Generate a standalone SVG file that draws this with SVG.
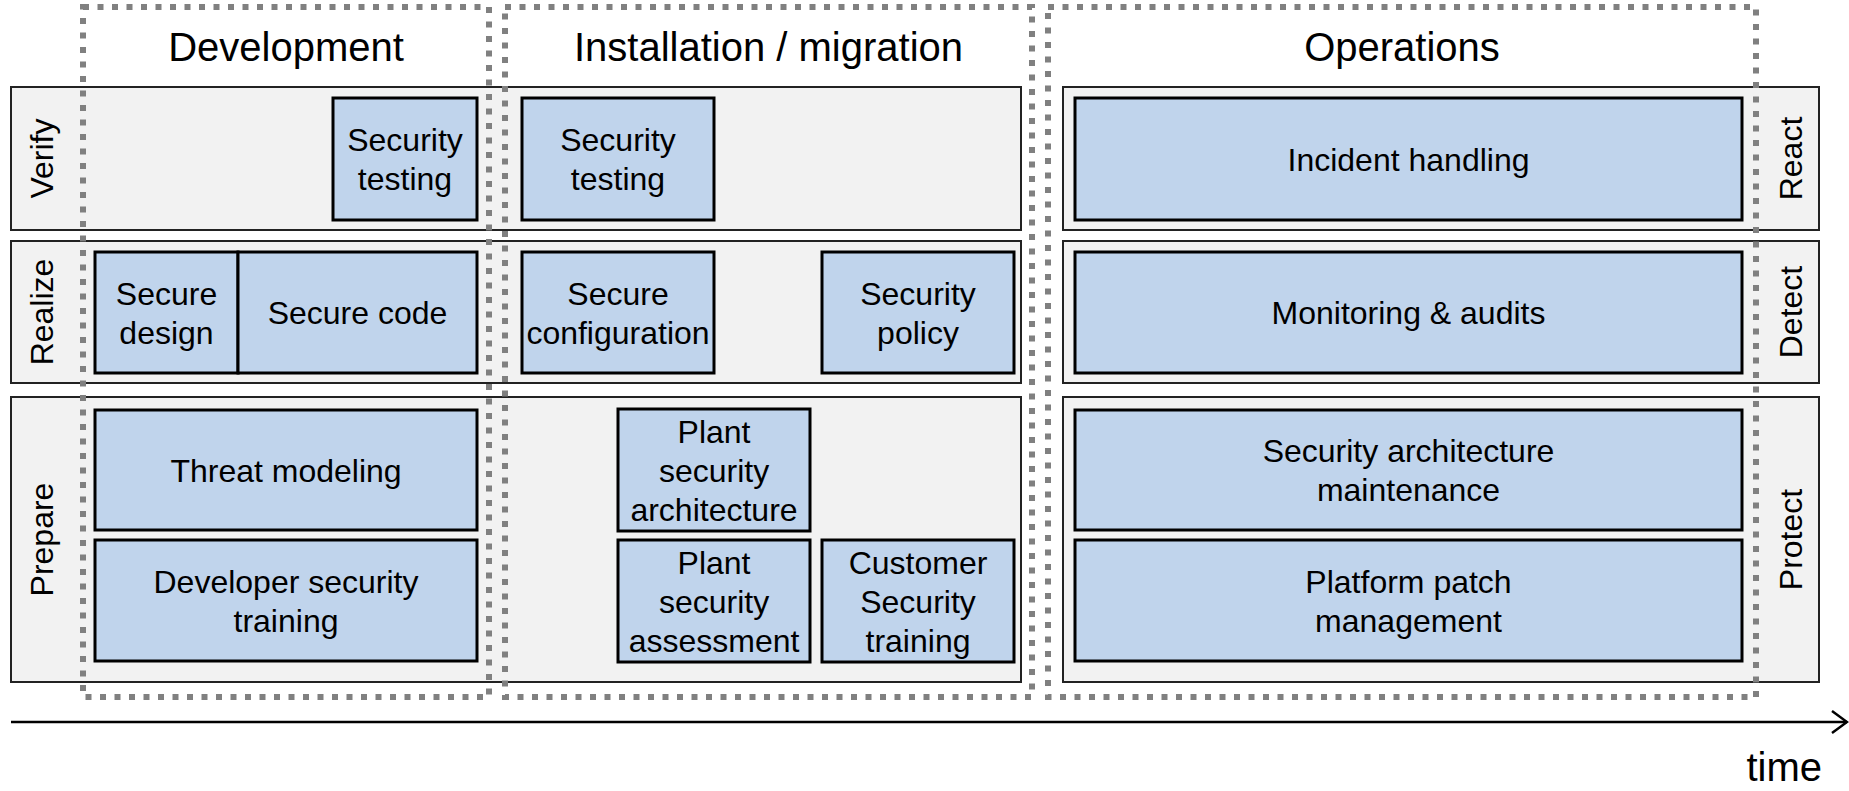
<svg xmlns="http://www.w3.org/2000/svg" width="1849" height="791" viewBox="0 0 1849 791">
  <style>
    text { font-family: "Liberation Sans", Arial, sans-serif; fill: #000; }
    .head { font-size: 40px; text-anchor: middle; }
    .lbl { font-size: 32px; text-anchor: middle; }
    .side { font-size: 32px; text-anchor: middle; }
    .panel { fill: #f2f2f2; stroke: #222; stroke-width: 2; }
    .box { fill: #c0d4ec; stroke: #000; stroke-width: 3; }
    .phase { fill: none; stroke: #808080; stroke-width: 6; stroke-dasharray: 6 8.5; }
    .axis { fill: none; stroke: #000; stroke-width: 2.5; }
  </style>

  <!-- Background bands (rows) -->
  <g id="bands">
    <rect class="panel" x="11" y="87" width="1010" height="143"/>
    <rect class="panel" x="11" y="241" width="1010" height="142"/>
    <rect class="panel" x="11" y="397" width="1010" height="285"/>
    <rect class="panel" x="1063" y="87" width="756" height="143"/>
    <rect class="panel" x="1063" y="241" width="756" height="142"/>
    <rect class="panel" x="1063" y="397" width="756" height="285"/>
  </g>

  <!-- Row labels -->
  <g id="row-labels">
    <text class="side" transform="translate(53,158.5) rotate(-90)">Verify</text>
    <text class="side" transform="translate(53,312) rotate(-90)">Realize</text>
    <text class="side" transform="translate(53,539.5) rotate(-90)">Prepare</text>
    <text class="side" transform="translate(1802,158.5) rotate(-90)">React</text>
    <text class="side" transform="translate(1802,312) rotate(-90)">Detect</text>
    <text class="side" transform="translate(1802,539.5) rotate(-90)">Protect</text>
  </g>

  <!-- Development -->
  <g id="dev-security-testing">
    <rect class="box" x="333" y="98" width="144" height="122"/>
    <text class="lbl"><tspan x="405" y="151">Security</tspan><tspan x="405" y="190">testing</tspan></text>
  </g>
  <g id="dev-secure-design">
    <rect class="box" x="95" y="252" width="143" height="121"/>
    <text class="lbl"><tspan x="166.5" y="304.5">Secure</tspan><tspan x="166.5" y="343.5">design</tspan></text>
  </g>
  <g id="dev-secure-code">
    <rect class="box" x="238" y="252" width="239" height="121"/>
    <text class="lbl" x="357.5" y="324">Secure code</text>
  </g>
  <g id="dev-threat-modeling">
    <rect class="box" x="95" y="410" width="382" height="120"/>
    <text class="lbl" x="286" y="481.5">Threat modeling</text>
  </g>
  <g id="dev-developer-training">
    <rect class="box" x="95" y="540" width="382" height="121"/>
    <text class="lbl"><tspan x="286" y="592.5">Developer security</tspan><tspan x="286" y="631.5">training</tspan></text>
  </g>

  <!-- Installation / migration -->
  <g id="inst-security-testing">
    <rect class="box" x="522" y="98" width="192" height="122"/>
    <text class="lbl"><tspan x="618" y="151">Security</tspan><tspan x="618" y="190">testing</tspan></text>
  </g>
  <g id="inst-secure-configuration">
    <rect class="box" x="522" y="252" width="192" height="121"/>
    <text class="lbl"><tspan x="618" y="304.5">Secure</tspan><tspan x="618" y="343.5">configuration</tspan></text>
  </g>
  <g id="inst-security-policy">
    <rect class="box" x="822" y="252" width="192" height="121"/>
    <text class="lbl"><tspan x="918" y="304.5">Security</tspan><tspan x="918" y="343.5">policy</tspan></text>
  </g>
  <g id="inst-plant-architecture">
    <rect class="box" x="618" y="409" width="192" height="122"/>
    <text class="lbl"><tspan x="714" y="442.5">Plant</tspan><tspan x="714" y="481.5">security</tspan><tspan x="714" y="520.5">architecture</tspan></text>
  </g>
  <g id="inst-plant-assessment">
    <rect class="box" x="618" y="540" width="192" height="122"/>
    <text class="lbl"><tspan x="714" y="573.5">Plant</tspan><tspan x="714" y="612.5">security</tspan><tspan x="714" y="651.5">assessment</tspan></text>
  </g>
  <g id="inst-customer-training">
    <rect class="box" x="822" y="540" width="192" height="122"/>
    <text class="lbl"><tspan x="918" y="573.5">Customer</tspan><tspan x="918" y="612.5">Security</tspan><tspan x="918" y="651.5">training</tspan></text>
  </g>

  <!-- Operations -->
  <g id="ops-incident-handling">
    <rect class="box" x="1075" y="98" width="667" height="122"/>
    <text class="lbl" x="1408.5" y="170.5">Incident handling</text>
  </g>
  <g id="ops-monitoring">
    <rect class="box" x="1075" y="252" width="667" height="121"/>
    <text class="lbl" x="1408.5" y="324">Monitoring &amp; audits</text>
  </g>
  <g id="ops-architecture-maintenance">
    <rect class="box" x="1075" y="410" width="667" height="120"/>
    <text class="lbl"><tspan x="1408.5" y="462">Security architecture</tspan><tspan x="1408.5" y="501">maintenance</tspan></text>
  </g>
  <g id="ops-patch-management">
    <rect class="box" x="1075" y="540" width="667" height="121"/>
    <text class="lbl"><tspan x="1408.5" y="592.5">Platform patch</tspan><tspan x="1408.5" y="631.5">management</tspan></text>
  </g>

  <!-- Phase frames with headings -->
  <g id="phase-development">
    <rect class="phase" x="83" y="7" width="406" height="690"/>
    <text class="head" x="286" y="61">Development</text>
  </g>
  <g id="phase-installation">
    <rect class="phase" x="505" y="7" width="527" height="690"/>
    <text class="head" x="768.5" y="61">Installation / migration</text>
  </g>
  <g id="phase-operations">
    <rect class="phase" x="1048" y="7" width="708" height="690"/>
    <text class="head" x="1402" y="61">Operations</text>
  </g>

  <!-- Time axis -->
  <g id="connectors">
    <line class="axis" x1="11" y1="722" x2="1847" y2="722"/>
    <polyline class="axis" points="1832,711 1847,722 1832,733"/>
  </g>
  <g id="time-label">
    <text x="1822" y="781" style="font-size:40px;text-anchor:end">time</text>
  </g>
</svg>
